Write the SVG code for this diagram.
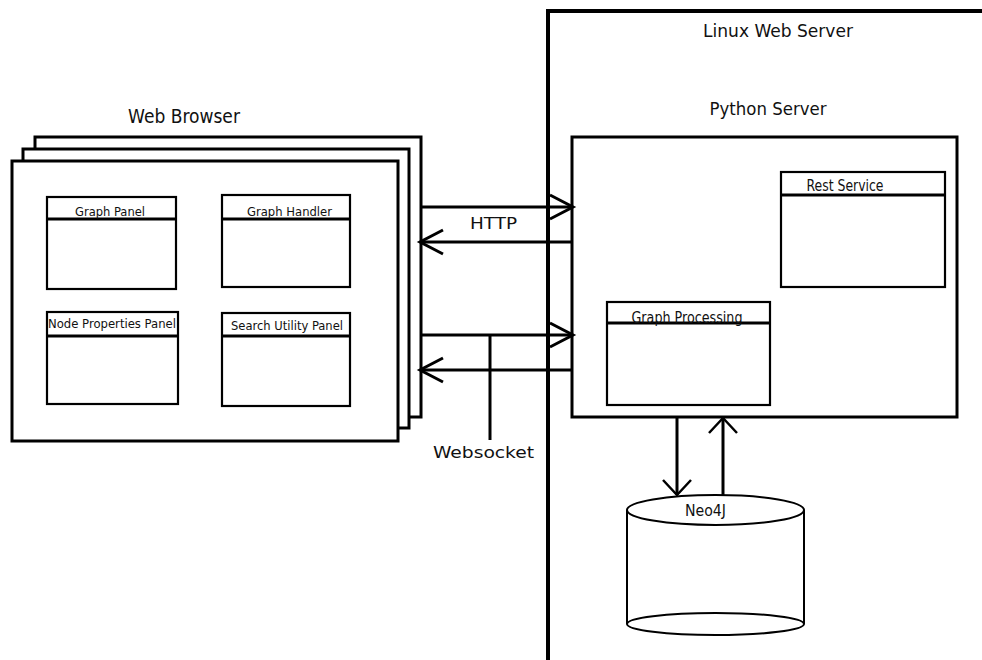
<svg xmlns="http://www.w3.org/2000/svg" width="982" height="660" viewBox="0 0 982 660">
<style>
.box{fill:#fff;stroke:#000;stroke-width:3}
.sub{fill:#fff;stroke:#000;stroke-width:2.2}
.ln{stroke:#000;stroke-width:3;fill:none}
.t{font-family:"DejaVu Sans Condensed","DejaVu Sans",sans-serif;fill:#111;text-anchor:middle}
.s{font-size:13px}
.l{font-size:18.5px}
</style>
<defs>
<marker id="ah" markerUnits="userSpaceOnUse" markerWidth="34" markerHeight="34" viewBox="0 0 34 34" refX="28" refY="17" orient="auto">
<path d="M5,5 L28,17 L5,29" fill="none" stroke="#000" stroke-width="3"/>
</marker>
<marker id="av" markerUnits="userSpaceOnUse" markerWidth="34" markerHeight="34" viewBox="0 0 34 34" refX="27" refY="17" orient="auto">
<path d="M12,3 L27,17 L12,31" fill="none" stroke="#000" stroke-width="2.5"/>
</marker>
</defs>
<rect width="982" height="660" fill="#fff"/>

<g id="linux-web-server">
<rect x="548" y="11" width="500" height="700" fill="none" stroke="#000" stroke-width="4"/>
<text class="t l" x="778" y="37" textLength="150" lengthAdjust="spacingAndGlyphs">Linux Web Server</text>
</g>

<g id="web-browser">
<text class="t" style="font-size:19px" x="184" y="123">Web Browser</text>
<rect class="box" x="35" y="137" width="386" height="280"/>
<rect class="box" x="23" y="149" width="386" height="279"/>
<rect class="box" x="12" y="161" width="386" height="280"/>
</g>

<g id="graph-panel">
<rect class="sub" x="47" y="197" width="129" height="92"/>
<line class="ln" stroke-width="2.2" x1="47" y1="219" x2="176" y2="219"/>
<text class="t s" x="110" y="216" textLength="70" lengthAdjust="spacingAndGlyphs">Graph Panel</text>
</g>
<g id="graph-handler">
<rect class="sub" x="222" y="195" width="128" height="92"/>
<line class="ln" stroke-width="2.2" x1="222" y1="219" x2="350" y2="219"/>
<text class="t s" x="289.5" y="216" textLength="85" lengthAdjust="spacingAndGlyphs">Graph Handler</text>
</g>
<g id="node-properties-panel">
<rect class="sub" x="47" y="312" width="131" height="92"/>
<line class="ln" stroke-width="2.2" x1="47" y1="336" x2="178" y2="336"/>
<text class="t s" x="112" y="328" textLength="128" lengthAdjust="spacingAndGlyphs">Node Properties Panel</text>
</g>
<g id="search-utility-panel">
<rect class="sub" x="222" y="313" width="128" height="93"/>
<line class="ln" stroke-width="2.2" x1="222" y1="336" x2="350" y2="336"/>
<text class="t s" x="287" y="330" textLength="112" lengthAdjust="spacingAndGlyphs">Search Utility Panel</text>
</g>

<g id="python-server">
<text class="t l" x="768" y="115" textLength="117" lengthAdjust="spacingAndGlyphs">Python Server</text>
<rect class="box" x="572" y="137" width="385" height="280"/>
</g>
<g id="rest-service">
<rect class="sub" x="781" y="172" width="164" height="115"/>
<line class="ln" stroke-width="2.2" x1="781" y1="195" x2="945" y2="195"/>
<text class="t" style="font-size:16px" x="845" y="191" textLength="77" lengthAdjust="spacingAndGlyphs">Rest Service</text>
</g>
<g id="graph-processing">
<rect class="sub" x="607" y="302" width="163" height="103"/>
<line class="ln" stroke-width="2.2" x1="607" y1="323" x2="770" y2="323"/>
<text class="t" style="font-size:16px" x="687" y="323" textLength="111" lengthAdjust="spacingAndGlyphs">Graph Processing</text>
</g>

<g id="neo4j">
<path d="M627,510 L627,624 M804,510 L804,624" stroke="#000" stroke-width="2" fill="none"/>
<ellipse cx="715.5" cy="624" rx="88.5" ry="11" fill="none" stroke="#000" stroke-width="2"/>
<ellipse cx="715.5" cy="510" rx="88.5" ry="15" fill="#fff" stroke="#000" stroke-width="2"/>
<text class="t" style="font-size:15px" x="705.5" y="516" textLength="41" lengthAdjust="spacingAndGlyphs">Neo4J</text>
</g>

<g id="connectors">
<line class="ln" x1="420" y1="207" x2="573" y2="207" marker-end="url(#ah)"/>
<line class="ln" x1="572" y1="242" x2="420" y2="242" marker-end="url(#ah)"/>
<text class="t" style="font-size:15px" x="493.5" y="229" textLength="47" lengthAdjust="spacingAndGlyphs">HTTP</text>
<line class="ln" x1="420" y1="335" x2="573" y2="335" marker-end="url(#ah)"/>
<line class="ln" x1="572" y1="370" x2="420" y2="370" marker-end="url(#ah)"/>
<line class="ln" stroke-width="2.5" x1="490" y1="335" x2="490" y2="440"/>
<text class="t" style="font-size:16px" x="483.5" y="458" textLength="101" lengthAdjust="spacingAndGlyphs">Websocket</text>
<line class="ln" stroke-width="2.5" x1="677" y1="417" x2="677" y2="495" marker-end="url(#av)"/>
<line class="ln" stroke-width="2.5" x1="723" y1="495" x2="723" y2="418" marker-end="url(#av)"/>
</g>
</svg>
